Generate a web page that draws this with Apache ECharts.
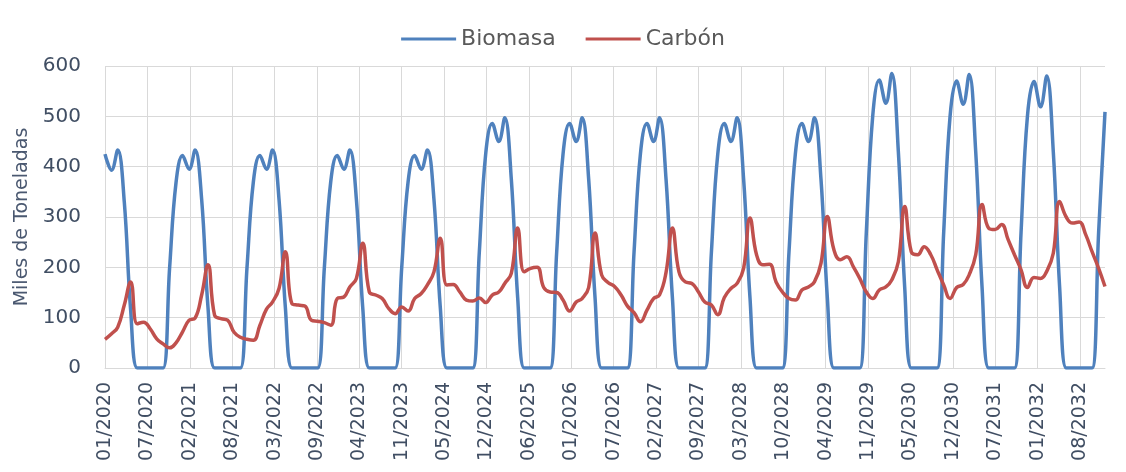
<!DOCTYPE html>
<html>
<head>
<meta charset="utf-8">
<script src="https://cdn.jsdelivr.net/npm/echarts@6/dist/echarts.min.js"></script>
<style>
  html, body { margin: 0; padding: 0; background: #fff; }
  #chart { width: 1126px; height: 472px; }
</style>
</head>
<body>
<div id="chart"></div>
<script>
// monthly series, Jan 2020 .. Dec 2032
const firstYear = 2020
const lastYear = 2032

const tickLabels = [
  '01/2020', '07/2020', '02/2021', '08/2021', '03/2022', '09/2022',
  '04/2023', '11/2023', '05/2024', '12/2024', '06/2025', '01/2026',
  '07/2026', '02/2027', '09/2027', '03/2028', '10/2028', '04/2029',
  '11/2029', '05/2030', '12/2030', '07/2031', '01/2032', '08/2032'
]

const biomasa = [
  425, 393, 433, 330, 115, 0, 0, 0, 0, 0, 200, 368, // 2020
  422, 395, 433, 335, 120, 0, 0, 0, 0, 0, 200, 370, // 2021
  422, 395, 433, 335, 120, 0, 0, 0, 0, 0, 200, 370, // 2022
  422, 395, 433, 335, 120, 0, 0, 0, 0, 0, 200, 370, // 2023
  422, 395, 433, 335, 120, 0, 0, 0, 0, 0, 230, 425, // 2024
  486, 450, 497, 375, 140, 0, 0, 0, 0, 0, 230, 425, // 2025
  486, 450, 497, 375, 140, 0, 0, 0, 0, 0, 230, 425, // 2026
  486, 450, 497, 375, 140, 0, 0, 0, 0, 0, 230, 425, // 2027
  486, 450, 497, 375, 140, 0, 0, 0, 0, 0, 230, 425, // 2028
  486, 450, 497, 375, 140, 0, 0, 0, 0, 0, 270, 500, // 2029
  572, 526, 585, 430, 160, 0, 0, 0, 0, 0, 270, 500, // 2030
  570, 524, 583, 430, 160, 0, 0, 0, 0, 0, 270, 500, // 2031
  569, 519, 580, 430, 160, 0, 0, 0, 0, 0, 270, 509  // 2032
]

const carbon = [
  57, 68, 81, 125, 171, 88, 91, 78, 58, 48, 40, 50,        // 2020
  72, 95, 99, 145, 205, 105, 98, 95, 71, 61, 57, 55,       // 2021
  85, 117, 131, 158, 231, 128, 125, 123, 95, 93, 90, 85,   // 2022
  138, 141, 161, 178, 248, 151, 145, 138, 118, 108, 121, 113, // 2023
  138, 148, 165, 191, 258, 165, 166, 151, 135, 133, 139, 130, // 2024
  145, 151, 168, 188, 278, 191, 198, 200, 160, 151, 150, 135, // 2025
  113, 131, 138, 160, 268, 185, 170, 162, 145, 123, 110, 92,  // 2026
  115, 138, 145, 190, 278, 191, 171, 168, 151, 131, 125, 106, // 2027
  140, 158, 168, 198, 298, 225, 205, 206, 171, 151, 138, 135, // 2028
  155, 161, 171, 208, 301, 235, 215, 221, 201, 178, 151, 138, // 2029
  155, 161, 175, 211, 321, 231, 225, 241, 225, 195, 165, 138, // 2030
  160, 166, 185, 225, 325, 278, 275, 285, 255, 225, 195, 160, // 2031
  180, 178, 192, 228, 331, 300, 288, 290, 265, 231, 198, 162  // 2032
]

const DAY = 86400000
const origin = Date.UTC(firstYear, 0, 1)
const days = []
for (let y = firstYear; y <= lastYear; y++) {
  for (let m = 0; m < 12; m++) days.push((Date.UTC(y, m, 1) - origin) / DAY)
}

const font = 'DejaVu Sans'
const textColor = '#404e63'
const gridColor = '#d9d9d9'

const chart = echarts.init(document.getElementById('chart'), null, { renderer: 'canvas' })

chart.setOption({
  animation: false,
  legend: {
    top: 23,
    left: 'center',
    icon: 'rect',
    itemWidth: 55,
    itemHeight: 3,
    itemGap: 30,
    textStyle: { fontFamily: font, fontSize: 22, color: '#595959' },
    data: ['Biomasa', 'Carbón']
  },
  grid: {
    left: 105,
    right: 21,
    top: 66,
    bottom: 104,
    outerBoundsMode: 'none'
  },
  xAxis: {
    type: 'value',
    min: 0,
    max: days[days.length - 1],
    interval: 200,
    axisLine: { show: true, lineStyle: { color: gridColor, width: 1 } },
    axisTick: { show: false },
    splitLine: { show: true, showMaxLine: false, lineStyle: { color: gridColor, width: 1 } },
    axisLabel: {
      rotate: 90,
      margin: 14,
      fontFamily: font,
      fontSize: 19,
      color: textColor,
      showMaxLabel: false,
      formatter: v => {
        const i = v / 200
        return Number.isInteger(i) && tickLabels[i] ? tickLabels[i] : ''
      }
    }
  },
  yAxis: {
    type: 'value',
    min: 0,
    max: 600,
    interval: 100,
    name: 'Miles de Toneladas',
    nameLocation: 'middle',
    nameRotate: 90,
    nameGap: 72,
    nameTextStyle: { fontFamily: font, fontSize: 19, color: '#4a5870' },
    axisLine: { show: false },
    axisTick: { show: false },
    splitLine: { lineStyle: { color: gridColor, width: 1 } },
    axisLabel: { margin: 24, fontFamily: font, fontSize: 20, color: textColor }
  },
  series: [
    {
      name: 'Biomasa',
      type: 'line',
      color: '#4f81bd',
      data: days.map((d, i) => [d, biomasa[i]]),
      smooth: 0.4,
      symbol: 'none',
      lineStyle: { width: 3.5, color: '#4f81bd' }
    },
    {
      name: 'Carbón',
      type: 'line',
      color: '#c0504d',
      data: days.map((d, i) => [d, carbon[i]]),
      smooth: 0.45,
      symbol: 'none',
      lineStyle: { width: 3.5, color: '#c0504d' }
    }
  ]
})

window.addEventListener('resize', () => chart.resize())
</script>
</body>
</html>
